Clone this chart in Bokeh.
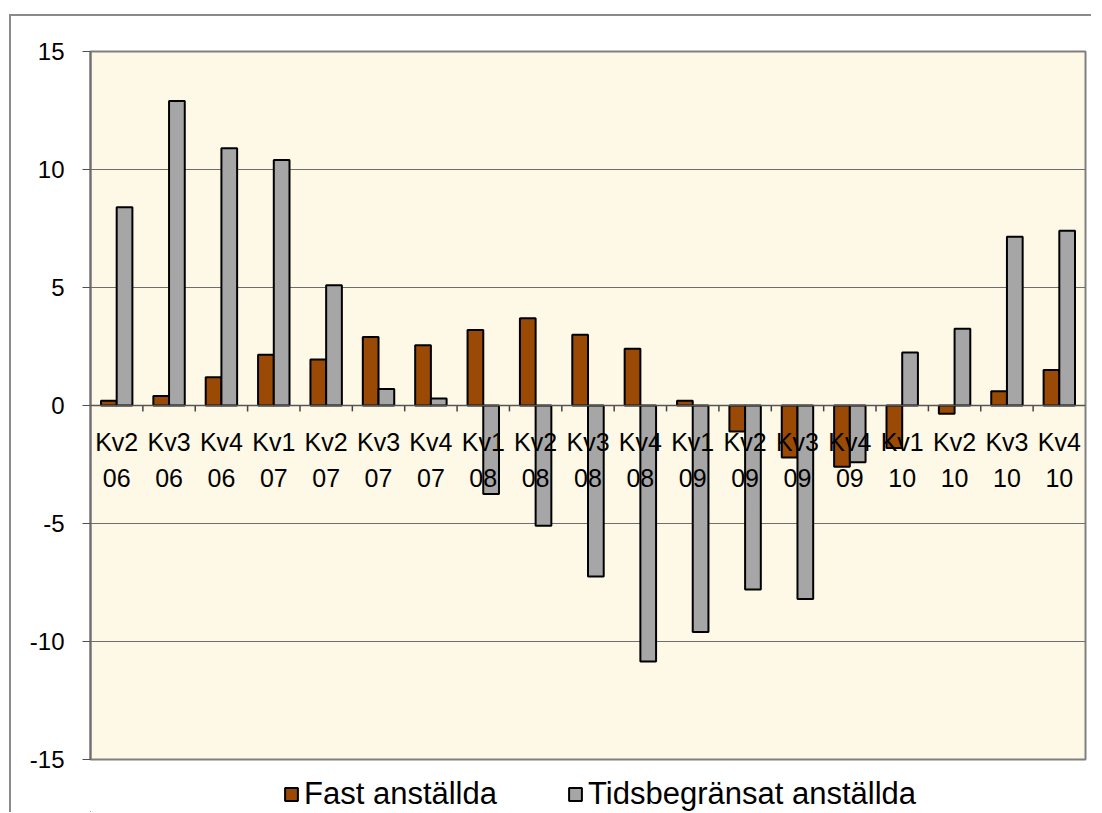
from bokeh.plotting import figure
from bokeh.models import (Range1d, FixedTicker, Legend, LegendItem, ColumnDataSource, Span)
from bokeh.layouts import column
from bokeh.embed import file_html
from bokeh.resources import INLINE
from bokeh.core.properties import value
import numpy as np

quarters = ["Kv2", "Kv3", "Kv4", "Kv1", "Kv2", "Kv3", "Kv4", "Kv1", "Kv2", "Kv3", "Kv4",
            "Kv1", "Kv2", "Kv3", "Kv4", "Kv1", "Kv2", "Kv3", "Kv4"]
years = ["06", "06", "06", "07", "07", "07", "07", "08", "08", "08", "08",
         "09", "09", "09", "09", "10", "10", "10", "10"]
fast = [0.2, 0.4, 1.2, 2.15, 1.95, 2.9, 2.55, 3.2, 3.7, 3.0, 2.4,
        0.2, -1.1, -2.2, -2.6, -1.8, -0.35, 0.6, 1.5]
tids = [8.4, 12.9, 10.9, 10.4, 5.1, 0.7, 0.3, -3.75, -5.1, -7.25, -10.85,
        -9.6, -7.8, -8.2, -2.4, 2.25, 3.25, 7.15, 7.4]
series_names = ["Fast anställda", "Tidsbegränsat anställda"]
y_ticks = [-15, -10, -5, 0, 5, 10, 15]

n = len(quarters)
idx = np.arange(n)
labels = [q + "\n" + y for q, y in zip(quarters, years)]

FONT = "Liberation Sans"
BROWN = "#9A4A05"
GRAY = "#A6A6A6"
TICK_LEN = 0.25  # length of category tick marks below the zero line (in axis units)

src = ColumnDataSource(dict(xc=idx + 0.5, xf=idx + 0.5 - 0.15, xt=idx + 0.5 + 0.15,
                            fast=fast, tids=tids, lab=labels))
bounds = np.arange(1, n)

p = figure(frame_width=995, frame_height=708, min_border_left=79, min_border_top=35,
           min_border_right=6, min_border_bottom=16,
           x_range=Range1d(0, n), y_range=Range1d(-15, 15),
           output_backend="svg", toolbar_location=None, x_axis_location=None)
p.background_fill_color = "#FEF8E6"
p.border_fill_color = "white"
p.outline_line_color = "#808080"
p.outline_line_width = 2

p.xgrid.visible = False
p.ygrid.ticker = FixedTicker(ticks=y_ticks)
p.ygrid.grid_line_color = "#6e6e6e"
p.ygrid.grid_line_width = 1

ya = p.yaxis[0]
ya.ticker = FixedTicker(ticks=y_ticks)
ya.major_label_overrides = {t: str(t) for t in y_ticks}
ya.major_tick_out = 8
ya.major_tick_in = 0
ya.minor_tick_out = 0
ya.minor_tick_in = 0
ya.axis_line_color = "#707070"
ya.axis_line_width = 2
ya.major_tick_line_color = "#505050"
ya.major_label_text_font = FONT
ya.major_label_text_font_size = "24px"
ya.major_label_text_color = "black"
ya.major_label_standoff = 18

# category tick marks hanging from the zero line
p.segment(x0=bounds, y0=0, x1=bounds, y1=-TICK_LEN, line_color="#444444", line_width=1.5)

r1 = p.vbar(x="xf", top="fast", bottom=0, width=0.3, source=src,
            fill_color=BROWN, line_color="black", line_width=2)
r2 = p.vbar(x="xt", top="tids", bottom=0, width=0.3, source=src,
            fill_color=GRAY, line_color="black", line_width=2)

p.add_layout(Span(location=0, dimension="width", line_color="#555555", line_width=1.5))

p.text(x="xc", y=0, text="lab", source=src, text_font=value(FONT), text_font_size="25px",
       text_align="center", text_baseline="top", y_offset=22, text_line_height=1.3,
       text_color="black")

# legend strip below the chart (key glyphs live outside the strip's visible range)
lg = figure(width=1080, height=37, min_border=0, x_range=Range1d(0, 1), y_range=Range1d(0, 1),
            output_backend="svg", toolbar_location=None,
            x_axis_location=None, y_axis_location=None)
lg.grid.visible = False
lg.outline_line_color = None
lg.background_fill_color = "white"
lg.border_fill_color = "white"
k1 = lg.vbar(x=[-5], top=[-5], bottom=-6, width=0.1, fill_color=BROWN,
             line_color="black", line_width=2)
k2 = lg.vbar(x=[-5], top=[-5], bottom=-6, width=0.1, fill_color=GRAY,
             line_color="black", line_width=2)

legend = Legend(items=[LegendItem(label=series_names[0], renderers=[k1]),
                       LegendItem(label=series_names[1], renderers=[k2])],
                orientation="horizontal", location=(193, 0),
                label_text_font=FONT, label_text_font_size="31px", label_text_color="black",
                glyph_width=16, glyph_height=16, spacing=70, padding=0, margin=0,
                label_standoff=5, border_line_alpha=0, background_fill_alpha=0)
lg.add_layout(legend, "center")

layout = column(p, lg, spacing=0,
                styles={"border-left": "2px solid #8a8a8a", "border-top": "2px solid #8a8a8a",
                        "margin-left": "9px", "margin-top": "14px"})

open("out.html", "w").write(file_html(layout, INLINE))
